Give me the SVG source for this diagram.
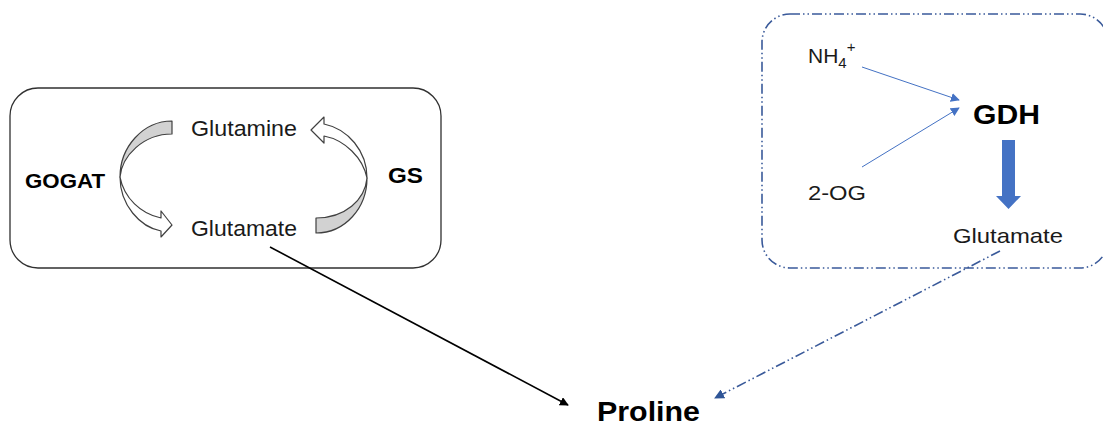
<svg xmlns="http://www.w3.org/2000/svg" width="1103" height="427" viewBox="0 0 1103 427">
<style>
.t{font-family:"Liberation Sans",Arial,sans-serif;fill:#1a1a1a}
.b{font-weight:bold;fill:#000}
.band{stroke:#404040;stroke-width:1.2;stroke-linejoin:round}
.gray{fill:#D2D2D2}
.white{fill:#FFFFFF}
.dd{fill:none;stroke:#3A5A9A;stroke-width:1.6;stroke-dasharray:10 3 1.5 3 1.5 3}
</style>
<defs>
<marker id="ahBlack" viewBox="0 0 10 10" refX="9" refY="5" markerWidth="9" markerHeight="9" markerUnits="userSpaceOnUse" orient="auto">
<path d="M0,0 L10,5 L0,10 z" fill="#000"/>
</marker>
<marker id="ahDark" viewBox="0 0 10 10" refX="9" refY="5" markerWidth="10" markerHeight="10" markerUnits="userSpaceOnUse" orient="auto">
<path d="M0,0 L10,5 L0,10 z" fill="#2F5597"/>
</marker>
<marker id="ahBlue" viewBox="0 0 10 10" refX="9" refY="5" markerWidth="9" markerHeight="9" markerUnits="userSpaceOnUse" orient="auto">
<path d="M0,0 L10,5 L0,10 z" fill="#4472C4"/>
</marker>
</defs>

<g id="box-gs-gogat">
<rect x="10" y="88" width="431" height="180" rx="28" ry="28" fill="none" stroke="#303030" stroke-width="1.3"/>
</g>

<g id="box-gdh">
<rect x="762" y="14" width="346" height="254" rx="28" ry="28" class="dd"/>
</g>

<g id="arrow-gogat">
<path class="band gray" d="M172,121 C143,121 120,147 120,177 C122,156 143,134 172,134 Z"/>
<path class="band white" d="M120,177 C120,205 140,227 161,231 L161,237 L172,225 L161,211 L161,218 C141,214 124,198 120,177 Z"/>
</g>

<g id="arrow-gs">
<path class="band gray" d="M316,233 C345,233 367,208 367,178 C365,200 345,218 316,218 Z"/>
<path class="band white" d="M367,178 C367,151 348,129 324,124 L324,117 L311,130 L324,143 L324,136 C345,140 363,158 367,178 Z"/>
</g>

<g id="node-glutamine"><text class="t" x="191" y="136" font-size="22" textLength="106" lengthAdjust="spacingAndGlyphs">Glutamine</text></g>
<g id="node-glutamate-left"><text class="t" x="191" y="236" font-size="22" textLength="106" lengthAdjust="spacingAndGlyphs">Glutamate</text></g>
<g id="node-gogat"><text class="t b" x="25" y="188" font-size="21" textLength="80" lengthAdjust="spacingAndGlyphs">GOGAT</text></g>
<g id="node-gs"><text class="t b" x="388" y="183" font-size="22" textLength="35" lengthAdjust="spacingAndGlyphs">GS</text></g>
<g id="node-proline"><text class="t b" x="597" y="421" font-size="28" textLength="103" lengthAdjust="spacingAndGlyphs">Proline</text></g>
<g id="node-gdh"><text class="t b" x="973" y="124" font-size="27" textLength="67" lengthAdjust="spacingAndGlyphs">GDH</text></g>
<g id="node-nh4"><text class="t" x="808" y="63" font-size="21">NH<tspan font-size="15" dy="5">4</tspan><tspan font-size="15" dy="-16">+</tspan></text></g>
<g id="node-2og"><text class="t" x="808" y="200" font-size="21" textLength="58" lengthAdjust="spacingAndGlyphs">2-OG</text></g>
<g id="node-glutamate-right"><text class="t" x="953" y="243" font-size="21" textLength="110" lengthAdjust="spacingAndGlyphs">Glutamate</text></g>

<g id="connectors">
<line x1="270" y1="247" x2="568" y2="405" stroke="#000" stroke-width="1.6" marker-end="url(#ahBlack)"/>
<line x1="1000" y1="251" x2="715" y2="398" class="dd" stroke="#2F5597" marker-end="url(#ahDark)"/>
<line x1="862" y1="67" x2="959" y2="100" stroke="#4472C4" stroke-width="1" marker-end="url(#ahBlue)"/>
<line x1="862" y1="167" x2="959" y2="108" stroke="#4472C4" stroke-width="1" marker-end="url(#ahBlue)"/>
<path d="M1002,140 L1015,140 L1015,196 L1021,196 L1008.5,209 L996,196 L1002,196 Z" fill="#4472C4"/>
</g>
</svg>
